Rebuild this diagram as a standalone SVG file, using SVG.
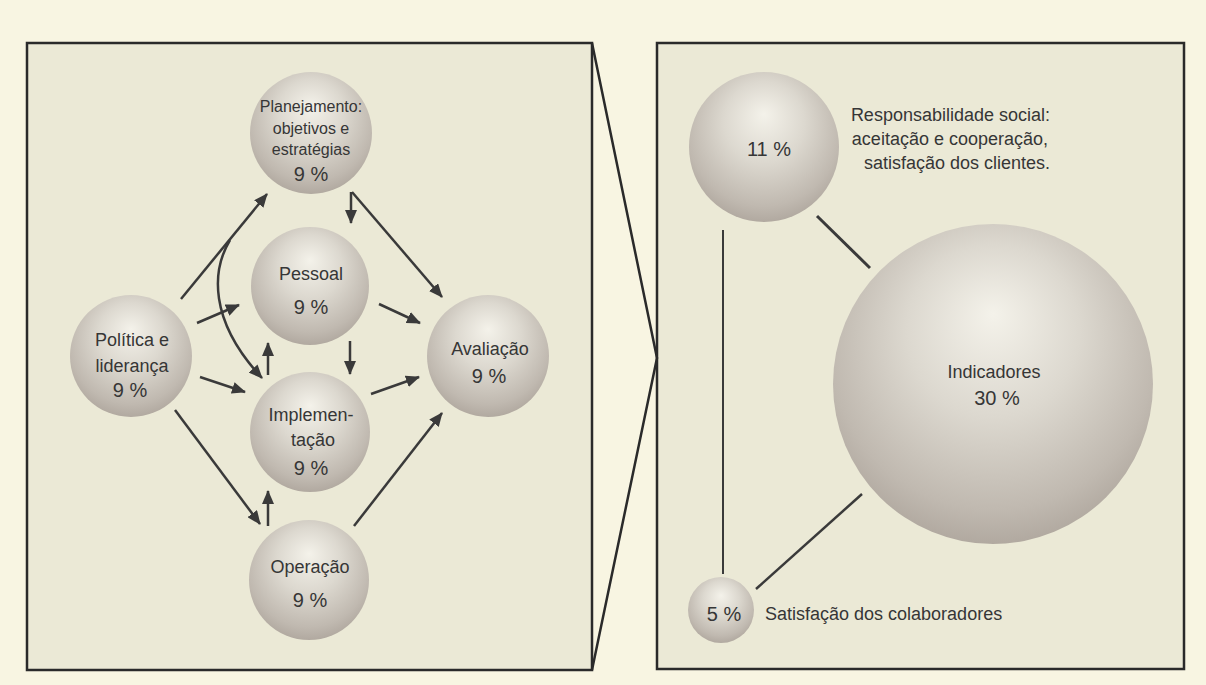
<svg xmlns="http://www.w3.org/2000/svg" width="1206" height="685" viewBox="0 0 1206 685">
  <defs>
    <radialGradient id="sphere" cx="0.5" cy="0.4" r="0.6" fx="0.5" fy="0.28">
      <stop offset="0" stop-color="#f4f2ea"/>
      <stop offset="0.45" stop-color="#dcd8cf"/>
      <stop offset="0.85" stop-color="#c0b9b0"/>
      <stop offset="1" stop-color="#b1a9a0"/>
    </radialGradient>
    <marker id="arr" viewBox="0 0 14 12" refX="13" refY="6" markerWidth="14" markerHeight="12" markerUnits="userSpaceOnUse" orient="auto">
      <path d="M0,0 L14,6 L0,12 z" fill="#3a3a3a"/>
    </marker>
  </defs>
  <style>
    .panel { fill: #ebe9d6; stroke: #2a2a2a; stroke-width: 2.5; }
    .ball { fill: url(#sphere); }
    .lbl { font-family: "Liberation Sans", Arial, sans-serif; font-size: 18px; fill: #363636; text-anchor: middle; }
    .sm { font-size: 16px; }
    .pct { font-size: 20px; }
    .conn path, .conn line { stroke: #3a3a3a; stroke-width: 2.5; fill: none; }
    .arrow { marker-end: url(#arr); }
    .frame { stroke: #2a2a2a; stroke-width: 2.5; fill: none; }
  </style>

  <rect x="0" y="0" width="1206" height="685" fill="#f8f5e2"/>

  <g id="panels">
    <rect class="panel" x="27" y="43" width="565" height="627"/>
    <rect class="panel" x="657" y="43" width="527" height="626"/>
    <polyline class="frame" points="592,43 657,358 592,670"/>
  </g>

  <g id="node-planejamento">
    <circle class="ball" cx="311" cy="133" r="61"/>
    <text class="lbl sm" x="311" y="112">Planejamento:</text>
    <text class="lbl sm" x="311" y="134">objetivos e</text>
    <text class="lbl sm" x="311" y="155">estratégias</text>
    <text class="lbl pct" x="311" y="181">9 %</text>
  </g>
  <g id="node-pessoal">
    <circle class="ball" cx="310" cy="286" r="59"/>
    <text class="lbl" x="311" y="280">Pessoal</text>
    <text class="lbl pct" x="311" y="314">9 %</text>
  </g>
  <g id="node-politica">
    <circle class="ball" cx="131" cy="356" r="61"/>
    <text class="lbl" x="132" y="346">Política e</text>
    <text class="lbl" x="132" y="372">liderança</text>
    <text class="lbl pct" x="130" y="397">9 %</text>
  </g>
  <g id="node-avaliacao">
    <circle class="ball" cx="488" cy="356" r="61"/>
    <text class="lbl" x="490" y="355">Avaliação</text>
    <text class="lbl pct" x="489" y="383">9 %</text>
  </g>
  <g id="node-implementacao">
    <circle class="ball" cx="310" cy="432" r="60"/>
    <text class="lbl" x="311" y="421">Implemen-</text>
    <text class="lbl" x="313" y="446">tação</text>
    <text class="lbl pct" x="311" y="475">9 %</text>
  </g>
  <g id="node-operacao">
    <circle class="ball" cx="309" cy="580" r="60"/>
    <text class="lbl" x="310" y="573">Operação</text>
    <text class="lbl pct" x="310" y="607">9 %</text>
  </g>

  <g id="node-responsabilidade">
    <circle class="ball" cx="764" cy="147" r="75"/>
    <text class="lbl pct" x="769" y="156">11 %</text>
    <text class="lbl" x="1050" y="121" style="text-anchor:end">Responsabilidade social:</text>
    <text class="lbl" x="1048" y="145" style="text-anchor:end">aceitação e cooperação,</text>
    <text class="lbl" x="1050" y="169" style="text-anchor:end">satisfação dos clientes.</text>
  </g>
  <g id="node-indicadores">
    <circle class="ball" cx="993" cy="384" r="160"/>
    <text class="lbl" x="994" y="378">Indicadores</text>
    <text class="lbl pct" x="997" y="405">30 %</text>
  </g>
  <g id="node-colaboradores">
    <circle class="ball" cx="721" cy="610" r="33"/>
    <text class="lbl pct" x="724" y="621">5 %</text>
    <text class="lbl" x="765" y="620" style="text-anchor:start">Satisfação dos colaboradores</text>
  </g>

  <g id="connectors" class="conn">
    <line class="arrow" x1="181" y1="299" x2="267" y2="194"/>
    <line class="arrow" x1="197" y1="323" x2="239" y2="305"/>
    <path class="arrow" d="M230,240 C212,270 208,320 262,378"/>
    <line class="arrow" x1="268" y1="375" x2="268" y2="343"/>
    <line class="arrow" x1="200" y1="377" x2="245" y2="392"/>
    <line class="arrow" x1="175" y1="410" x2="260" y2="524"/>
    <line class="arrow" x1="268" y1="526" x2="268" y2="491"/>
    <line class="arrow" x1="351" y1="192" x2="351" y2="223"/>
    <line class="arrow" x1="352" y1="192" x2="442" y2="297"/>
    <line class="arrow" x1="379" y1="304" x2="420" y2="323"/>
    <line class="arrow" x1="350" y1="341" x2="350" y2="374"/>
    <line class="arrow" x1="371" y1="394" x2="419" y2="377"/>
    <line class="arrow" x1="354" y1="526" x2="442" y2="413"/>
    <line x1="723" y1="230" x2="723" y2="574" style="stroke-width:2"/>
    <line x1="817" y1="216" x2="870" y2="268" style="stroke-width:3"/>
    <line x1="862" y1="494" x2="756" y2="589" style="stroke-width:2.5"/>
  </g>
</svg>
